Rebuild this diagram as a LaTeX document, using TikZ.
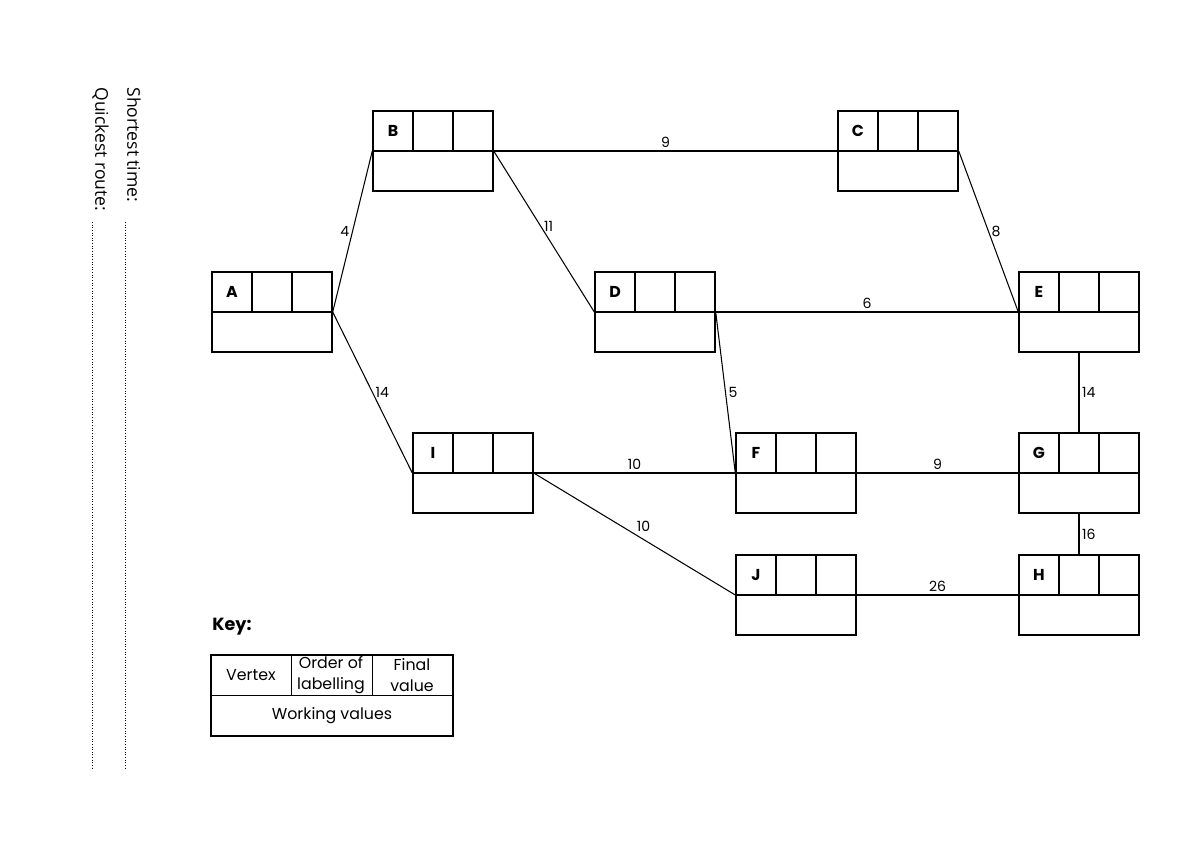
\documentclass[tikz,border=0pt]{standalone}
\usepackage{fontspec}
\setmainfont{Poppins}
\newfontfamily\sidefont{Open Sans}
\usetikzlibrary{calc}
\tikzset{
  cellbox/.style={draw,line width=.8pt,inner sep=0pt,
    path picture={
      \coordinate (pw) at (path picture bounding box.west);
      \coordinate (p1) at ($(path picture bounding box.north west)!1/3!(path picture bounding box.north east)$);
      \coordinate (p2) at ($(path picture bounding box.north west)!2/3!(path picture bounding box.north east)$);
      \draw[line width=.8pt] (pw) -- (path picture bounding box.east);
      \draw[line width=.8pt] (p1) -- (p1 |- pw);
      \draw[line width=.8pt] (p2) -- (p2 |- pw);
      \node[font=\bfseries\small] at ($(path picture bounding box.north west)+(4mm,-4mm)$) {#1};
    }},
  vertex/.style={cellbox=#1,minimum width=24mm,minimum height=16mm},
  keybox/.style={cellbox={},minimum width=48.4mm,minimum height=16.2mm},
  arc/.style={line width=.6pt},
  wt/.style={font=\footnotesize,inner sep=1.5pt},
  keytext/.style={font=\fontsize{9}{12}\selectfont,align=center,inner sep=0pt},
  sidetext/.style={font=\sidefont,rotate=-90,anchor=north west,inner sep=0pt},
  rule/.style={densely dotted,line width=.5pt},
}
\begin{document}
\begin{tikzpicture}[x=0.2mm,y=-0.2mm]
  \useasboundingbox (0,0) rectangle (1200,848);
  % vertices
  \node[vertex=A] (A) at (272,312) {};
  \node[vertex=B] (B) at (433,151) {};
  \node[vertex=C] (C) at (898,151) {};
  \node[vertex=D] (D) at (655,312) {};
  \node[vertex=E] (E) at (1079,312) {};
  \node[vertex=I] (I) at (473,473) {};
  \node[vertex=F] (F) at (796,473) {};
  \node[vertex=G] (G) at (1079,473) {};
  \node[vertex=J] (J) at (796,595) {};
  \node[vertex=H] (H) at (1079,595) {};
  % arcs
  \draw[arc] (A.east) -- node[wt,left] {4} (B.west);
  \draw[arc] (A.east) -- node[wt,right] {14} (I.west);
  \draw[arc] (B.east) -- node[wt,above] {9} (C.west);
  \draw[arc] (B.east) -- node[wt,right,pos=.47] {11} (D.west);
  \draw[arc] (C.east) -- node[wt,right] {8} (E.west);
  \draw[arc] (D.east) -- node[wt,above] {6} (E.west);
  \draw[arc] (D.east) -- node[wt,right] {5} (F.west);
  \draw[arc] (E.south) -- node[wt,right] {14} (G.north);
  \draw[arc] (I.east) -- node[wt,above] {10} (F.west);
  \draw[arc] (I.east) -- node[wt,above right,inner sep=1pt] {10} (J.west);
  \draw[arc] (F.east) -- node[wt,above] {9} (G.west);
  \draw[arc] (G.south) -- node[wt,right] {16} (H.north);
  \draw[arc] (J.east) -- node[wt,above] {26} (H.west);
  % key
  \node[font=\bfseries,anchor=west,inner sep=0pt] (keyt) at (212,627) {Key:};
  \node[keybox] (key) at (332,695.5) {};
  \node[keytext] (kv) at (251,675) {Vertex};
  \node[keytext] (ko) at (331,675) {Order of\\labelling};
  \node[keytext] (kf) at (412,675) {Final\\value};
  \node[keytext] (kw) at (332,716) {Working values};
  % answer lines
  \node[sidetext] (st) at (141,87) {Shortest time:};
  \node[sidetext] (qr) at (109,87) {Quickest route:};
  \coordinate (st1) at (125,222); \coordinate (st2) at (125,768);
  \coordinate (qr1) at (92,222);  \coordinate (qr2) at (92,768);
  \draw[rule] (st1) -- (st2);
  \draw[rule] (qr1) -- (qr2);
\end{tikzpicture}
\end{document}
